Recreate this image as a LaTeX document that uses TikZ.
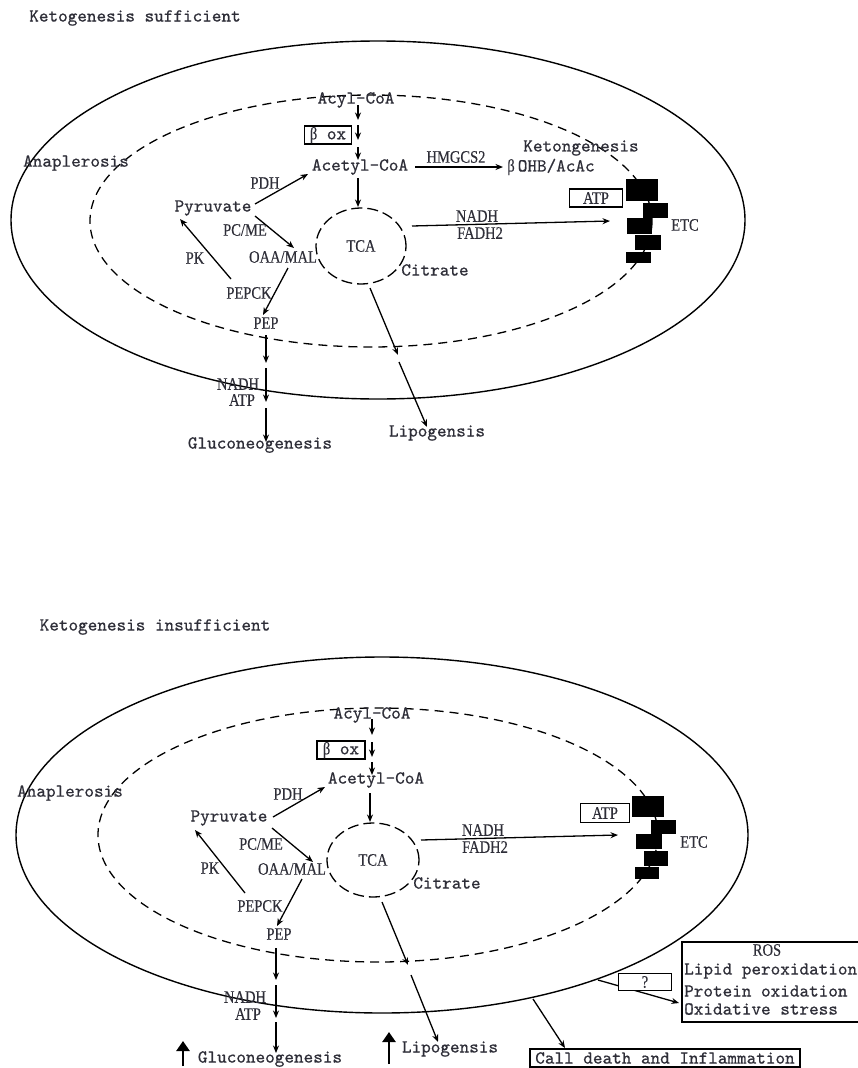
\documentclass[tikz,border=0pt]{standalone}
\usepackage{fontspec}
\setmainfont{Liberation Serif}
\newfontfamily\monof[FakeBold=0.6]{lmmono10-regular.otf}
\newfontfamily\serc[FakeStretch=0.83,FakeBold=0.3]{Liberation Serif}
\newcommand\mybeta{{\serc\fontsize{17.5}{19}\selectfont β}}
\usetikzlibrary{arrows.meta,shapes.geometric}
\definecolor{txt}{HTML}{2E2E38}
\begin{document}
\begin{tikzpicture}[x=1pt,y=-1pt,
 mono/.style={font=\monof\fontsize{18.3}{20}\selectfont, text=txt, inner sep=0pt},
 ser/.style={font=\serc\fontsize{17.5}{19}\selectfont, text=txt, inner sep=0pt},
 arr/.style={line width=1.3pt, -{Stealth[length=7.5pt,width=6pt]}},
 lbox/.style={draw=black, line width=1.4pt, rectangle, inner sep=0pt},
 bigup/.style={line width=2.8pt, -{Triangle[length=10pt,width=13pt]}},
 cell/.style={line width=1.4pt},
 memb/.style={line width=1.3pt, dash pattern=on 9pt off 6pt},
 tcastyle/.style={ellipse, draw, line width=1.3pt, dash pattern=on 11pt off 5pt, inner sep=0pt},
]
\useasboundingbox (0,0) rectangle (858,1068);
\fill[white] (0,0) rectangle (858,1068);
\clip (0,0) rectangle (858,1068);

% ================= TOP PANEL =================
\node[mono] (title1) at (135,18) {Ketogenesis sufficient};
\draw[cell] (378,220) ellipse [x radius=367, y radius=179];
\draw[memb] (371,221) ellipse [x radius=281, y radius=126];

% ETC
\fill (626,179) rectangle (658,201);
\fill (643,203) rectangle (668,218);
\fill (627,218) rectangle (652,234);
\fill (635,235) rectangle (661,250);
\fill (626,252) rectangle (651,263);

\node[mono] (anap1) at (76,163) {Anaplerosis};
\node[mono] (acyl1) at (356,100) {Acyl-CoA};
\node[lbox, mono, minimum width=47pt, minimum height=18pt] (box1) at (328,135) {\mybeta\ ox};
\node[mono] (acet1) at (360,167) {Acetyl-CoA};
\node[ser] (pdh1) at (265,183) {PDH};
\node[mono] (pyr1) at (213,208) {Pyruvate};
\node[ser] (pcme1) at (245,230) {PC/ME};
\node[ser] (oaa1) at (283,257) {OAA/MAL};
\node[ser] (pk1) at (195,258) {PK};
\node[ser] (pepck1) at (249,293) {PEPCK};
\node[ser] (pep1) at (266,323) {PEP};
\node[tcastyle, ser, minimum width=90pt, minimum height=76pt] (tca1) at (361,246) {TCA};
\node[mono] (cit1) at (435,270) {Citrate};
\node[ser] (hmg1) at (456,157) {HMGCS2};
\node[mono] (ohb1) at (551,167) {\mybeta\,OHB/AcAc};
\node[mono] (keto1) at (581,148) {Ketongenesis};
\node[lbox, ser, minimum width=53pt, minimum height=18pt] (atp1) at (596,198) {ATP};
\node[ser] (etc1) at (685,225) {ETC};
\node[ser] (nadh1) at (477,216) {NADH};
\node[ser] (fadh1) at (480,233) {FADH2};
\node[ser] (nadhb1) at (238,384) {NADH};
\node[ser] (atpb1) at (242,400) {ATP};
\node[mono] (gluc1) at (260,445) {Gluconeogenesis};
\node[mono] (lipo1) at (437,433) {Lipogensis};

\coordinate (a1s) at (358,105); \coordinate (a1e) at (358,120);
\coordinate (a2s) at (358,125); \coordinate (a2e) at (358,140);
\coordinate (a3s) at (358,147); \coordinate (a3e) at (358,160);
\draw[arr] (a1s) -- (a1e);
\draw[arr] (a2s) -- (a2e);
\draw[arr] (a3s) -- (a3e);
\coordinate (b1s) at (358,178); \coordinate (b1e) at (358,207);
\draw[arr] (b1s) -- (b1e);
\coordinate (p1a) at (255,204); \coordinate (p1b) at (308,174);
\draw[arr] (p1a) -- (p1b);
\coordinate (p1c) at (255,216); \coordinate (p1d) at (294,248);
\draw[arr] (p1c) -- (p1d);
\coordinate (k1a) at (231,279); \coordinate (k1b) at (180,219);
\draw[arr] (k1a) -- (k1b);
\coordinate (o1a) at (288,268); \coordinate (o1b) at (263,315);
\draw[arr] (o1a) -- (o1b);
\coordinate (g1a) at (266,335); \coordinate (g1b) at (266,363);
\coordinate (g1c) at (266,368); \coordinate (g1d) at (266,402);
\coordinate (g1e) at (266,408); \coordinate (g1f) at (266,442);
\draw[arr] (g1a) -- (g1b);
\draw[arr] (g1c) -- (g1d);
\draw[arr] (g1e) -- (g1f);
\coordinate (l1a) at (370,288); \coordinate (l1b) at (398,355);
\coordinate (l1c) at (399,362); \coordinate (l1d) at (427,427);
\draw[arr] (l1a) -- (l1b);
\draw[arr] (l1c) -- (l1d);
\coordinate (h1a) at (415,167); \coordinate (h1b) at (503,167);
\draw[arr] (h1a) -- (h1b);
\coordinate (e1a) at (412,226); \coordinate (e1b) at (610,221);
\draw[arr] (e1a) -- (e1b);

% ================= BOTTOM PANEL =================
\node[mono] (title2) at (155,627) {Ketogenesis insufficient};
\draw[cell] (382,835) ellipse [x radius=366, y radius=178];
\draw[memb] (378,835) ellipse [x radius=280, y radius=127];

\fill (632,796) rectangle (664,817);
\fill (651,820) rectangle (676,834);
\fill (636,834) rectangle (662,849);
\fill (644,851) rectangle (668,866);
\fill (635,867) rectangle (659,879);

\node[mono] (anap2) at (70,793) {Anaplerosis};
\node[mono] (acyl2) at (372,715) {Acyl-CoA};
\node[lbox, mono, minimum width=48pt, minimum height=18pt] (box2) at (341,750) {\mybeta\ ox};
\node[mono] (acet2) at (376,780) {Acetyl-CoA};
\node[ser] (pdh2) at (288,794) {PDH};
\node[mono] (pyr2) at (229,818) {Pyruvate};
\node[ser] (pcme2) at (261,844) {PC/ME};
\node[ser] (oaa2) at (292,869) {OAA/MAL};
\node[ser] (pk2) at (210,868) {PK};
\node[ser] (pepck2) at (260,906) {PEPCK};
\node[ser] (pep2) at (279,934) {PEP};
\node[tcastyle, ser, minimum width=92pt, minimum height=74pt] (tca2) at (373,860) {TCA};
\node[mono] (cit2) at (447,883) {Citrate};
\node[ser] (nadh2) at (483,830) {NADH};
\node[ser] (fadh2) at (485,847) {FADH2};
\node[lbox, ser, minimum width=49pt, minimum height=19pt] (atp2) at (605,813) {ATP};
\node[ser] (etc2) at (694,842) {ETC};
\node[ser] (nadhb2) at (245,997) {NADH};
\node[ser] (atpb2) at (248,1014) {ATP};
\node[mono] (gluc2) at (270,1059) {Gluconeogenesis};
\node[mono] (lipo2) at (450,1049) {Lipogensis};

\node[lbox, minimum width=190pt, minimum height=80pt] (ros) at (777,982) {};
\node[ser] (rost) at (767,950) {ROS};
\node[mono, anchor=west] (lip) at (684,971) {Lipid peroxidation};
\node[mono, anchor=west] (prot) at (684,991) {Protein oxidation};
\node[mono, anchor=west] (oxs) at (684,1009) {Oxidative stress};
\node[lbox, mono, minimum width=270pt, minimum height=18pt] (call) at (665,1058) {Call death and Inflammation};

\coordinate (a4s) at (372,719); \coordinate (a4e) at (372,735);
\coordinate (a5s) at (372,742); \coordinate (a5e) at (372,757);
\coordinate (a6s) at (372,762); \coordinate (a6e) at (372,775);
\draw[arr] (a4s) -- (a4e);
\draw[arr] (a5s) -- (a5e);
\draw[arr] (a6s) -- (a6e);
\coordinate (b2s) at (370,793); \coordinate (b2e) at (370,822);
\draw[arr] (b2s) -- (b2e);
\coordinate (p2a) at (273,817); \coordinate (p2b) at (325,787);
\draw[arr] (p2a) -- (p2b);
\coordinate (p2c) at (272,828); \coordinate (p2d) at (313,862);
\draw[arr] (p2c) -- (p2d);
\coordinate (k2a) at (245,893); \coordinate (k2b) at (195,830);
\draw[arr] (k2a) -- (k2b);
\coordinate (o2a) at (302,879); \coordinate (o2b) at (277,926);
\draw[arr] (o2a) -- (o2b);
\coordinate (g2a) at (276,948); \coordinate (g2b) at (276,980);
\coordinate (g2c) at (276,985); \coordinate (g2d) at (276,1018);
\coordinate (g2e) at (276,1022); \coordinate (g2f) at (276,1053);
\draw[arr] (g2a) -- (g2b);
\draw[arr] (g2c) -- (g2d);
\draw[arr] (g2e) -- (g2f);
\coordinate (l2a) at (382,902); \coordinate (l2b) at (408,965);
\coordinate (l2c) at (411,975); \coordinate (l2d) at (438,1042);
\draw[arr] (l2a) -- (l2b);
\draw[arr] (l2c) -- (l2d);
\coordinate (e2a) at (421,840); \coordinate (e2b) at (618,835);
\draw[arr] (e2a) -- (e2b);
\coordinate (q2a) at (598,980); \coordinate (q2b) at (679,1003);
\draw[arr] (q2a) -- (q2b);
\node[lbox, ser, fill=white, minimum width=53pt, minimum height=17pt] (qbox) at (645,982) {?};
\coordinate (c2a) at (533,999); \coordinate (c2b) at (565,1048);
\draw[arr] (c2a) -- (c2b);
\coordinate (u1a) at (183,1066); \coordinate (u1b) at (183,1041);
\draw[bigup] (u1a) -- (u1b);
\coordinate (u2a) at (389,1064); \coordinate (u2b) at (389,1032);
\draw[bigup] (u2a) -- (u2b);
\end{tikzpicture}
\end{document}
